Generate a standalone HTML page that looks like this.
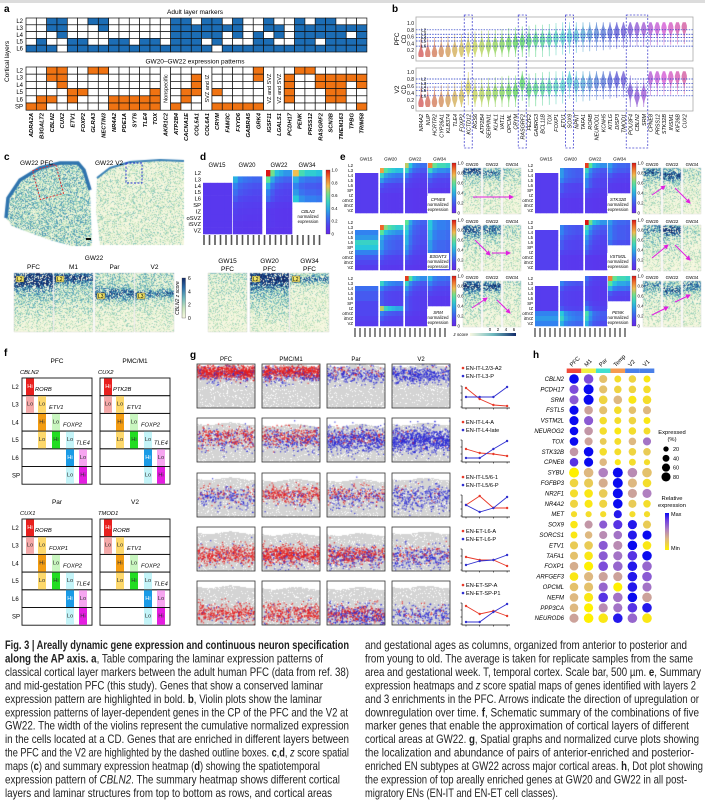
<!DOCTYPE html>
<html><head><meta charset="utf-8">
<style>
html,body{margin:0;padding:0;background:#fff}
body{width:705px;height:801px;position:relative;overflow:hidden}
#tex,#fig{position:absolute;left:0;top:0}
</style></head>
<body>
<canvas id="tex" width="705" height="801"></canvas>
<svg id="fig" width="705" height="801" xmlns="http://www.w3.org/2000/svg" font-family="Liberation Sans, sans-serif"></svg>
<script>
// ---------- DATA ----------
const aGenes=['ADRA2A','B3GALT2','CBLN2','CUX2','ETV1','FOXP2','GLRA3','NECTIN3','NR4A2','PDE1A','SYT6','TLE4','TOX','AKR1C2','ATP2B4','CACNA1E','COL5A1','COL6A1','CRYM','FAM3C','FXYD6','GABRA5','GRK4','IGSF11','LGALS1','PCDH17','PENK','PRSS12','RASGRF2','SCN3B','TMEM163','TPBG','TRIM58'];
const adultPattern=['00001','00011','11001','11100','00011','00011','10001','11001','00011','00011','00001','00011','00011','00001','11111','11111','01111','11101','11110','01001','11101','00001','00111','11011','01101','00001','11111','01111','11101','11111','01111','01011','01111'];
const fetalPattern=['000001','000011','110010','111000','000110','000100','100000','100000','000011','000011','000011','000011','000111','N','000001','000110','011100','S','000101','000001','000001','000001','110001','V','V','011110','100000','100000','011000','011110','011110','010000','011001'];
const mergedLabels={N:'Nonspecific',S:'SVZ and IZ',V:'VZ and SVZ'};
const adultRows=['L2','L3','L4','L5','L6'];
const fetalRows=['L2','L3','L4','L5','L6','SP'];

const bGenes=['NR4A2','NUP','HCRTR2','CYP26A1','KLB374','TLE4','FOXP2','KCTD12','RGS6','ATP2B4','SERPINI1','KLHL1','VAT1L','OPCML','CRYM','RASGRF2','FEZF2','GABRG3','BCL11B','TOX','FOXP1','ETV1','SOX9','NPNT','TAFA1','RORB','NEUROD1','KCNH5','KITLG','DISP3','TMOD1','POU3F4','CBLN2','SRM','CPNE8','PRSS12','STK32B','INSM1','KIF26B','CUX2'];
const pfcCD=[0.08,0.1,0.12,0.15,0.17,0.2,0.22,0.28,0.3,0.32,0.33,0.35,0.37,0.4,0.42,0.45,0.47,0.5,0.5,0.52,0.55,0.57,0.6,0.62,0.65,0.67,0.68,0.7,0.72,0.74,0.76,0.8,0.82,0.82,0.84,0.85,0.85,0.86,0.87,0.88];
const v2CD=[0.1,0.12,0.14,0.17,0.2,0.25,0.3,0.55,0.35,0.37,0.38,0.4,0.42,0.44,0.45,0.68,0.5,0.52,0.54,0.56,0.58,0.6,0.74,0.64,0.66,0.68,0.7,0.72,0.74,0.76,0.78,0.45,0.3,0.38,0.82,0.84,0.84,0.85,0.86,0.86];
const bTicks=[0,0.2,0.4,0.6,0.8,1.0];
const bLayerLines=[0.8,0.67,0.57,0.47,0.32];
const bLayerNames=['L2','L3','L4','L5','L6'];
const bBoxes=[[7,7],[15,15],[22,22],[31,33]];

const hmRows=['L2','L3','L4','L5','L6','SP','IZ','oSVZ','iSVZ','VZ'];
const hmAges=['GW15','GW20','GW22','GW34'];
const hmStart=[2,1,0,0];
const hmColFactor=[[1,1,1,1],[1,.7,.6,.55,.5,.5],[1,.6,.4,.35,.3,.3],[1,.7,.6,.6,.55]];
const dCBLN2=[[.08,.08,.08,.08,.08,.08,.08,.08],[.4,.3,.25,.2,.15,.12,.1,.08,.08],[1,.6,.4,.3,.25,.15,.1,.1,.1,.08],[.75,.4,.3,.35,.45]];
const eCPNE8=[[.1,.1,.1,.1,.1,.1,.1,.1],[.8,.5,.35,.2,.15,.1,.1,.1,.1],[.7,.5,.3,.2,.15,.1,.1,.1,.1,.1],[.85,.5,.3,.2,.15,.1]];
const eB3GNT3=[[.3,.35,.5,.45,.3,.2,.15,.1],[.9,.6,.4,.35,.35,.3,.2,.15,.1],[.6,.5,.45,.4,.4,.35,.3,.2,.15,.1],[.45,.45,.4,.4,.35,.35,.3,.3,.25,.25]];
const eSRM=[[.25,.2,.2,.15,.15,.15,.12,.1],[.5,.3,.2,.2,.2,.7,.3,.2,.15],[.95,.5,.35,.25,.2,.2,.2,.15,.1,.1],[.4,.3,.2,.15,.1,.1]];
const eSTK32B=[[.1,.1,.1,.1,.1,.1,.1,.1],[.35,.35,.3,.2,.2,.15,.1,.1,.1],[.95,.5,.4,.3,.3,.2,.15,.1,.1,.1],[.35,.3,.2,.15,.1,.1]];
const eVSTM2L=[[.12,.12,.12,.12,.12,.12,.12,.12],[.3,.3,.25,.2,.2,.15,.1,.1,.1],[1,.55,.45,.35,.3,.25,.2,.1,.1,.1],[.35,.3,.3,.3,.25]];
const ePENK=[[.1,.1,.1,.1,.1,.3,.35,.3],[.3,.2,.15,.15,.15,.2,.45,.5,.4],[.25,.2,.15,.15,.15,.2,.3,.55,.5,.4],[.85,.6,.4,.2,.15]];

const gAreas=['PFC','PMC/M1','Par','V2'];
const gRedNames=['EN-IT-L2/3-A2','EN-IT-L4-A','EN-IT-L5/6-1','EN-ET-L6-A','EN-ET-SP-A'];
const gBlueNames=['EN-IT-L3-P','EN-IT-L4-late','EN-IT-L5/6-P','EN-ET-L6-P','EN-ET-SP-P1'];
const gRedCurve=[[.9,.35,.05,0],[.55,.35,.3,.2],[.5,.95,.35,.35],[.6,.45,.45,.15],[.85,.45,.6,.35]];
const gBlueCurve=[[.45,.45,.45,.95],[.1,.1,.55,.95],[.5,.15,.35,.9],[.2,.4,.45,.7],[.05,.05,.55,.95]];
const gRedCount=[[700,550,60,15],[260,240,100,30],[80,300,150,25],[420,560,350,100],[350,350,280,40]];
const gBlueCount=[[160,200,240,420],[160,240,560,800],[200,70,170,320],[50,100,240,280],[40,60,350,250]];
const gBandCenter=[.2,.45,.5,.65,.75];

const hAreas=['PFC','M1','Par','Temp','V2','V1'];
const hGenes=['CBLN2','PCDH17','SRM','FSTL5','VSTM2L','NEUROG2','TOX','STK32B','CPNE8','SYBU','FGFBP3','NR2F1','NR4A2','MET','SOX9','SORCS1','ETV1','TAFA1','FOXP1','ARFGEF3','OPCML','NEFM','PPP3CA','NEUROD6'];
const hExpr=[[1,.75,.25,.1,.15,.05],[.75,1,.25,.15,.15,.1],[.7,1,.15,.3,.05,.1],[1,.4,.25,.1,.25,.3],[1,.7,.1,.1,.15,.05],[1,.45,.1,.05,.1,.1],[1,.4,.2,.1,.3,.6],[.45,1,.1,.1,.15,.2],[.85,1,.3,.05,.1,.1],[0,.3,.55,1,.5,.25],[.15,.2,.35,1,.3,.1],[.1,.05,.2,1,.4,.55],[.15,.05,.15,1,.2,.1],[.1,.1,.1,.95,.1,.1],[.05,.45,.7,.85,.95,.2],[.05,.3,.5,.6,.95,1],[.2,.2,.7,.5,1,.05],[.25,.05,.7,.6,.85,1],[.35,0,.75,.65,.95,.65],[.05,.3,.4,.4,.95,.7],[.25,.25,.65,0,.95,.6],[.3,.05,.85,.6,1,.4],[.3,0,.5,.6,.85,.95],[.4,0,.05,.95,.65,.05]];
const hPct=[[90,90,60,40,50,40],[80,100,60,50,50,50],[80,100,70,70,60,70],[80,70,60,50,50,60],[80,80,50,40,50,40],[70,70,50,40,50,40],[70,60,40,40,50,60],[70,90,50,40,50,50],[70,80,50,30,40,30],[100,90,90,100,90,90],[70,80,80,100,80,70],[60,70,70,100,80,80],[60,60,60,90,60,50],[30,30,30,60,30,30],[50,60,60,80,80,60],[40,50,60,70,80,80],[60,70,80,80,90,70],[60,70,80,80,90,90],[70,80,90,90,90,90],[70,80,80,80,90,90],[70,80,80,80,90,80],[70,80,90,90,90,90],[70,80,80,80,90,90],[80,90,90,90,90,90]];
const hLegendPct=[20,40,60,80];

// ---------- HELPERS ----------
const NS='http://www.w3.org/2000/svg';
const svg=document.getElementById('fig');
const cv=document.getElementById('tex');const ctx=cv.getContext('2d');
function mk(tag,attrs,parent){const e=document.createElementNS(NS,tag);for(const k in attrs)e.setAttribute(k,attrs[k]);(parent||svg).appendChild(e);return e;}
function T(str,x,y,fs,extra,parent){const t=mk('text',Object.assign({x:x,y:y,'font-size':fs},extra||{}),parent);t.textContent=str;return t;}
function mulberry(a){return function(){a|=0;a=a+0x6D2B79F5|0;let t=Math.imul(a^a>>>15,1|a);t=t+Math.imul(t^t>>>7,61|t)^t;return((t^t>>>14)>>>0)/4294967296;}}
function interp(stops,t){t=Math.max(0,Math.min(1,t));for(let i=1;i<stops.length;i++){if(t<=stops[i][0]){const a=stops[i-1],b=stops[i];const f=(t-a[0])/(b[0]-a[0]);return a[1].map((v,k)=>Math.round(v+(b[1][k]-v)*f));}}return stops[stops.length-1][1];}
function rgb(c){return 'rgb('+c[0]+','+c[1]+','+c[2]+')';}
const jet=[[0,[100,40,235]],[.15,[80,70,240]],[.3,[50,130,240]],[.45,[40,200,220]],[.6,[90,230,150]],[.75,[240,190,80]],[.9,[240,100,40]],[1,[220,20,20]]];
const tileStops=[[0,[248,248,226]],[.25,[200,230,190]],[.5,[110,185,190]],[.75,[45,110,170]],[1,[18,42,105]]];
const dotStops=[[0,[255,240,0]],[.3,[222,184,128]],[.55,[176,128,192]],[.8,[112,64,224]],[1,[10,10,240]]];

function speckleCanvas(w,h,fn,seed){
  const oc=document.createElement('canvas');oc.width=w;oc.height=h;const c=oc.getContext('2d');
  const img=c.createImageData(w,h);const r=mulberry(seed);
  for(let j=0;j<h;j++)for(let i=0;i<w;i++){
    const I=fn(j/h,i/w);let v=I+(r()-0.5)*0.6;if(r()<0.22)v=0.02;
    const col=interp(tileStops,v);const p=(j*w+i)*4;img.data[p]=col[0];img.data[p+1]=col[1];img.data[p+2]=col[2];img.data[p+3]=255;}
  c.putImageData(img,0,0);return oc;}
function bandFn(a,cc,wd,b,fl){return function(d){return (fl||0.04)+a*Math.exp(-Math.pow((d-cc)/wd,2))+b*(1-d);};}
function tile(x,y,w,h,fn,seed,name){
  ctx.drawImage(speckleCanvas(w,h,fn,seed),x,y);
  const r=mk('rect',{x:x,y:y,width:w,height:h,fill:'none',stroke:'#ccc','stroke-width':0.3});
  
  
}
function label(ch,x,y){const t=T(ch,x,y,10,{'font-weight':'bold'});}

const topBar=mk('rect',{x:0,y:0,width:705,height:3,fill:'#dcdcdc'});



// ---------- PANEL A ----------
label('a',4,12);
const ax0=26,acw=10.33;
{const t=T('Adult layer markers',195,14,6.5,{'text-anchor':'middle'});}
{const t=T('GW20–GW22 expression patterns',195,63.5,6.5,{'text-anchor':'middle'});}
{const t=T('Cortical layers',0,0,6.5,{transform:'translate(9,82) rotate(-90)'});}
adultRows.forEach((L,r)=>{const t=T(L,23,18+r*6.8+5.2,6,{'text-anchor':'end'});});
fetalRows.forEach((L,r)=>{const t=T(L,23,67+r*7.2+5.5,6,{'text-anchor':'end'});});
aGenes.forEach((g,i)=>{
  const x=ax0+i*acw;
  for(let r=0;r<5;r++){const on=adultPattern[i][r]==='1';const c=mk('rect',{x:x,y:18+r*6.8,width:acw,height:6.8,fill:on?'#1c6db5':'#fff',stroke:'#111','stroke-width':0.7});
    
    }
  const fp=fetalPattern[i];
  if(mergedLabels[fp]){const c=mk('rect',{x:x,y:67,width:acw,height:43.2,fill:'#fff',stroke:'#111','stroke-width':0.7});
    
    
    const t=T(mergedLabels[fp],0,0,5.5,{'text-anchor':'middle',transform:'translate('+(x+acw/2+2)+',88.6) rotate(-90)'});
    
    }
  else for(let r=0;r<6;r++){const on=fp[r]==='1';const c=mk('rect',{x:x,y:67+r*7.2,width:acw,height:7.2,fill:on?'#f07312':'#fff',stroke:'#111','stroke-width':0.7});
    
    }
  const t=T(g,0,0,5.8,{'text-anchor':'end','font-style':'italic','font-weight':'bold',transform:'translate('+(x+acw/2+2)+',113) rotate(-90)'});
  
  
});

// ---------- PANEL B ----------
label('b',392,12);
const bx=i=>421+i*6.75;
const bPanels=[{name:'PFC',top:17,bot:61,y:v=>57-34*v,cd:pfcCD},{name:'V2',top:68,bot:111,y:v=>107-35*v,cd:v2CD}];
bPanels.forEach(P=>{
  const fr=mk('rect',{x:416,y:P.top,width:277,height:P.bot-P.top,fill:'#fff',stroke:'#aaa','stroke-width':0.8});
  
  
  bTicks.forEach(v=>{const t=T(v===0?'0':v.toFixed(1),414,P.y(v)+2,5,{'text-anchor':'end'});});
  const t1=T(P.name,0,0,6.5,{'text-anchor':'middle',transform:'translate(399,'+((P.top+P.bot)/2)+') rotate(-90)'});
  
  
  const t2=T('CD',0,0,6,{'text-anchor':'middle',transform:'translate(406,'+((P.top+P.bot)/2)+') rotate(-90)'});
  
  
  P.cd.forEach((c,i)=>{
    const lo=Math.max(0,c-0.5),hi=Math.min(1.02,c+0.45);const pts=[],pts2=[];
    for(let k=0;k<=24;k++){const v=lo+(hi-lo)*k/24;const w=0.3+2.4*Math.exp(-Math.pow((v-c)/0.17,2));pts.push([bx(i)+w,P.y(v)]);pts2.unshift([bx(i)-w,P.y(v)]);}
    const h=(i/39)*325;
    const p=mk('polygon',{points:pts.concat(pts2).map(q=>q[0].toFixed(1)+','+q[1].toFixed(1)).join(' '),fill:'hsl('+h+',58%,64%)',opacity:0.9});
    
    
  });
  bLayerLines.forEach((v,k)=>{const l=mk('line',{x1:416,x2:693,y1:P.y(v),y2:P.y(v),stroke:'#1a2fc0','stroke-width':0.7,'stroke-dasharray':'1.5,1.2'});
    
    
    const t=T(bLayerNames[k],421,P.y(v)+1.5,4.8,{});
    
    });
});
bGenes.forEach((g,i)=>{const t=T(g,0,0,5.4,{'text-anchor':'end','font-style':'italic',transform:'translate('+(bx(i)+2)+',114) rotate(-90)'});});
bBoxes.forEach(b=>{const r=mk('rect',{x:bx(b[0])-4,y:15,width:bx(b[1])-bx(b[0])+8,height:133,fill:'none',stroke:'#4848d0','stroke-width':0.8,'stroke-dasharray':'2,1.5'});});

// ---------- HEATMAP FUNCTION ----------
function heatmap(data,x0,y0,rh,blockX,blockW,name){
  data.forEach((prof,b)=>{
    const cf=hmColFactor[b];const cw=blockW[b]/cf.length;
    prof.forEach((p,k)=>{const row=hmStart[b]+k;cf.forEach((f,c)=>{
      const v=0.06+(p-0.06)*f;
      const r=mk('rect',{x:blockX[b]+c*cw,y:y0+row*rh,width:cw+0.3,height:rh+0.3,fill:rgb(interp(jet,v))});
      
      });});
  });
}
function colorbar(x,y,h,name){
  const id='jg'+name;const g=mk('linearGradient',{id:id,x1:0,y1:1,x2:0,y2:0});
  for(let k=0;k<=8;k++){mk('stop',{offset:k/8,'stop-color':rgb(interp(jet,k/8))},g);}
  const r=mk('rect',{x:x,y:y,width:4,height:h,fill:'url(#'+id+')',stroke:'#333','stroke-width':0.3});
  
  
  [0,.2,.4,.6,.8,1].forEach(v=>{const t=T(v===0?'0':v.toFixed(1),x+5.5,y+h-v*h+1.5,4.3,{});});
}
function noteBox(x,y,gene,name){
  const r=mk('rect',{x:x,y:y,width:22,height:16,fill:'#fff'});
  
  
  [[gene,'italic'],['normalized','normal'],['expression','normal']].forEach((s,k)=>{const t=T(s[0],x+11,y+5+k*5,4.3,{'text-anchor':'middle','font-style':s[1]});});
}

// ---------- PANEL C ----------
label('c',4,160);
{const t=T('GW22 PFC',20,165,6.5,{});}
{const t=T('GW22 V2',95,165,6.5,{});}
(function(){
  const pfcPath=[[6,218],[8,198],[20,180],[40,168],[60,163],[78,163],[84,170],[90,190],[92,246],[72,246],[50,240],[28,232],[12,226]];
  const v2Path=[[97,178],[110,168],[130,162],[160,160],[184,161],[184,245],[100,245],[96,210]];
  [[pfcPath,0.36,11],[v2Path,0.14,12]].forEach((q,k)=>{
    ctx.save();ctx.beginPath();q[0].forEach((p,i)=>i?ctx.lineTo(p[0],p[1]):ctx.moveTo(p[0],p[1]));ctx.closePath();ctx.clip();
    ctx.drawImage(speckleCanvas(100,90,()=>q[1],q[2]),k?94:4,160);ctx.restore();
    ctx.save();ctx.strokeStyle=k?'#3c82b6':'#2f74ae';ctx.lineWidth=k?2:3.5;ctx.beginPath();
    const edge=k?q[0].slice(0,5):q[0].slice(0,8);edge.forEach((p,i)=>i?ctx.lineTo(p[0],p[1]):ctx.moveTo(p[0],p[1]));ctx.stroke();ctx.restore();
  });
})();
{const r=mk('rect',{x:36,y:167,width:24,height:30,fill:'none',stroke:'#e03030','stroke-width':0.9,'stroke-dasharray':'2,1.5',transform:'rotate(-15 48 182)'});}
{const r=mk('rect',{x:126,y:163,width:16,height:20,fill:'none',stroke:'#2030d0','stroke-width':0.9,'stroke-dasharray':'2,1.5'});}
{const r=mk('rect',{x:86,y:238,width:5,height:2,fill:'#111'});}
{const t=T('GW22',94,260,6.5,{'text-anchor':'middle'});}
const cTiles=[['PFC',14,bandFn(.5,.12,.15,.55)],['M1',54,bandFn(.5,.08,.08,.45)],['Par',95,bandFn(.5,.35,.12,.3)],['V2',135,bandFn(.45,.35,.08,.3)]];
cTiles.forEach((q,k)=>{
  const t=T(q[0],q[1]+19.5,269,6.5,{'text-anchor':'middle'});
  tile(q[1],273,39,59,q[2],100+k,'c-spatial-map-'+q[0]);
  const ly=k<2?276:293;const lb=mk('rect',{x:q[1]+2,y:ly,width:8,height:6,fill:'#f2e66a',stroke:'#222','stroke-width':0.4});
  
  
  const lt=T(k<2?'L2':'L3',q[1]+3,ly+5,5,{});
});
(function(){const g=mk('linearGradient',{id:'zg',x1:0,y1:1,x2:0,y2:0});[0,.25,.5,.75,1].forEach(v=>mk('stop',{offset:v,'stop-color':rgb(interp(tileStops,v))},g));
  const r=mk('rect',{x:182,y:278,width:3.5,height:40,fill:'url(#zg)',stroke:'#333','stroke-width':0.3});
  [0,2,4,6].forEach(v=>{const t=T(String(v),188,318-v/6*40+2,5,{});});
  const t=T('CBLN2 z score',0,0,5,{'text-anchor':'middle','font-style':'italic',transform:'translate(179,298) rotate(-90)'});})();

// ---------- PANEL D ----------
label('d',200,160);
hmAges.forEach((a,k)=>{const t=T(a,[217,247,279,307][k],167,6,{'text-anchor':'middle'});});
hmRows.forEach((r,k)=>{const t=T(r,201,170+k*6.4+5,5.8,{'text-anchor':'end'});});
heatmap(dCBLN2,203,170,6.4,[203,233,266,293],[29,29,26,29],'d-heatmap');
noteBox(297,208,'CBLN2','d');
colorbar(326,170,64,'d');
for(let k=0;k<22;k++){const t=mk('line',{x1:204+k*5.5,x2:204+k*5.5,y1:235,y2:245,stroke:'#555','stroke-width':1.6});}
const dTiles=[['GW15',208,bandFn(0,0,1,.18)],['GW20',250,bandFn(.5,.1,.15,.55)],['GW34',290,bandFn(.5,.1,.08,.15)]];
dTiles.forEach((q,k)=>{
  const t=T(q[0],q[1]+19.5,263,6.5,{'text-anchor':'middle'});
  const t2=T('PFC',q[1]+19.5,271,6.5,{'text-anchor':'middle'});
  tile(q[1],273,39,59,q[2],200+k,'d-spatial-map-'+q[0]);
});
[[252,276,'L2'],[292,276,'L2']].forEach(q=>{const lb=mk('rect',{x:q[0],y:q[1],width:8,height:6,fill:'#f2e66a',stroke:'#222','stroke-width':0.4});const lt=T(q[2],q[0]+1,q[1]+5,5,{});});

// ---------- PANEL E ----------
label('e',340,160);
const eGroups=[
  {gene:'CPNE8',data:eCPNE8,x:355,y:163,tiles:[bandFn(.6,.05,.1,.3),bandFn(.45,.1,.1,.25),bandFn(.15,.1,.2,.15)],arrows:[[473,197,513,197]]},
  {gene:'STK32B',data:eSTK32B,x:535,y:163,tiles:[bandFn(.4,.1,.12,.3),bandFn(.55,.15,.12,.3),bandFn(.1,.1,.2,.15)],arrows:[[652,195,665,186],[675,188,690,203]]},
  {gene:'B3GNT3',data:eB3GNT3,x:355,y:220,tiles:[bandFn(.45,.1,.15,.35),bandFn(.35,.1,.15,.3),bandFn(.1,.1,.2,.15)],arrows:[[475,240,490,255],[492,253,510,253]]},
  {gene:'VSTM2L',data:eVSTM2L,x:535,y:220,tiles:[bandFn(.3,.1,.12,.35),bandFn(.55,.12,.12,.35),bandFn(.1,.1,.2,.12)],arrows:[[652,258,668,245],[675,245,690,260]]},
  {gene:'SRM',data:eSRM,x:355,y:276,tiles:[bandFn(.4,.1,.15,.5),bandFn(.55,.12,.1,.3),bandFn(.1,.1,.2,.12)],arrows:[[472,308,487,298],[497,300,510,313]]},
  {gene:'PENK',data:ePENK,x:535,y:276,tiles:[bandFn(.3,.1,.12,.25),bandFn(.5,.2,.12,.25),bandFn(.4,.1,.12,.25)],arrows:[[652,315,668,307],[675,302,690,295]]}
];
{const m=mk('marker',{id:'ah',markerWidth:5,markerHeight:5,refX:4,refY:2.5,orient:'auto'});mk('path',{d:'M0,0 L5,2.5 L0,5 z',fill:'#e020e0'},m);}
eGroups.forEach((G,gi)=>{
  hmRows.forEach((r,k)=>{const t=T(r,G.x-2,G.y+k*5+4,4.3,{'text-anchor':'end'});});
  heatmap(G.data,G.x,G.y,5,[G.x,G.x+25,G.x+50,G.x+73],[23,23,22,22],'e-heatmap-'+G.gene);
  noteBox(G.x+72,G.y+33,G.gene,'e-'+G.gene);
  colorbar(G.x+97,G.y,50,'e-'+G.gene);
  if(gi<2)hmAges.forEach((a,k)=>{const t=T(a,G.x+11+k*24.5,G.y-2.5,4.5,{'text-anchor':'middle'});});
  const tx0=gi%2===0?463:643;
  ['GW20','GW22','GW34'].forEach((a,k)=>{
    const t=T(a,tx0+9+k*20,G.y+3,4.5,{'text-anchor':'middle'});
    tile(tx0+k*20,G.y+5,18,46,G.tiles[k],300+gi*3+k,'e-spatial-map-'+G.gene+'-'+a);
  });
  G.arrows.forEach(a=>{const l=mk('line',{x1:a[0],y1:a[1],x2:a[2],y2:a[3],stroke:'#e020e0','stroke-width':1,'marker-end':'url(#ah)'});});
});
for(let k=0;k<19;k++){[355,535].forEach(x0=>{const t=mk('line',{x1:x0+k*5,x2:x0+k*5,y1:328,y2:337,stroke:'#555','stroke-width':1.4});});}
{const t=T('z score',468,336,4.5,{'text-anchor':'end','font-style':'italic'});
 const g=mk('linearGradient',{id:'zg2',x1:0,y1:0,x2:1,y2:0});[0,.5,1].forEach(v=>mk('stop',{offset:v,'stop-color':rgb(interp(tileStops,v))},g));
 const r=mk('rect',{x:470,y:333,width:46,height:3,fill:'url(#zg2)'});
 [0,2,4,6].forEach((v,k)=>{const tt=T(String(v),490+k*8,331,4.3,{'text-anchor':'middle'});});}

// ---------- PANEL F ----------
label('f',4,356);
const fBars=[[4,[['Hi',0,'#e8201e','#fff'],['Lo',1,'#f4a9a9','#333']]],[16,[['Lo',1,'#fdd86c','#333'],['Hi',2,'#f39c12','#333'],['Lo',3,'#fdd86c','#333']]],[30,[['Lo',2,'#c9f6c0','#333'],['Hi',3,'#22dd22','#333']]],[44,[['Lo',3,'#c4f4f8','#333'],['Hi',4,'#1a9be6','#fff'],['Lo',5,'#c4f4f8','#333']]],[57,[['Lo',4,'#f6a6f0','#333'],['Hi',5,'#e41ee0','#333']]]];
const fPanels=[
  {title:'PFC',x:22,y:378,genes:['CBLN2','RORB','ETV1','FOXP2','TLE4']},
  {title:'PMC/M1',x:100,y:378,genes:['CUX2','PTK2B','ETV1','FOXP2','TLE4']},
  {title:'Par',x:22,y:519,genes:['CUX1','RORB','FOXP1','FOXP2','TLE4']},
  {title:'V2',x:100,y:519,genes:['TMOD1','RORB','ETV1','FOXP2','TLE4']}
];
const fRows=['L2','L3','L4','L5','L6','SP'];const frh=17.7;
fPanels.forEach((P,pi)=>{
  const t=T(P.title,P.x+35,P.y-15,6.5,{'text-anchor':'middle'});
  if(pi%2===0)fRows.forEach((r,k)=>{const tt=T(r,12,P.y+k*frh+11,6,{});});
  fRows.forEach((r,k)=>{const b=mk('rect',{x:P.x,y:P.y+k*frh,width:70,height:frh,fill:'none',stroke:'#111','stroke-width':0.9});});
  fBars.forEach((bar,gi)=>{
    bar[1].forEach(s=>{const r=mk('rect',{x:P.x+bar[0],y:P.y+s[1]*frh+0.5,width:8,height:frh-1,fill:s[2]});
      const tt=T(s[0],P.x+bar[0]+4,P.y+s[1]*frh+10,5.8,{'text-anchor':'middle',fill:s[3]});});
    const first=bar[1][0][1];
    const lx=gi===0?P.x-2:P.x+bar[0]-3;
    const ly=gi===0?P.y-4:P.y+first*frh-4.5;
    const lbl=T(P.genes[gi],lx,ly,5.8,{'font-style':'italic'});
    
    
  });
});

// ---------- PANEL G ----------
label('g',190,358);
const gX=[197,262,327,392],gY=[364,418,473,527,581],gW=58,gH=44;
gAreas.forEach((a,k)=>{const t=T(a,gX[k]+29,361,6,{'text-anchor':'middle'});});
function gauss(r){return Math.sqrt(-2*Math.log(r()+1e-9))*Math.cos(2*Math.PI*r());}
gY.forEach((y,ri)=>{
  gX.forEach((x,ci)=>{
    const r=mulberry(500+ri*10+ci);
    const oc=document.createElement('canvas');oc.width=gW;oc.height=gH;const c=oc.getContext('2d');
    const img=c.createImageData(gW,gH);
    const g0=ri===0?0.02:0.12+0.04*Math.sin(ci);
    for(let j=0;j<gH;j++)for(let i=0;i<gW;i++){const p=(j*gW+i)*4;let v=255;if(j/gH>g0+0.03*Math.sin(i/7)&&r()<0.9)v=212;img.data[p]=v;img.data[p+1]=v;img.data[p+2]=v;img.data[p+3]=255;}
    c.putImageData(img,0,0);
    const nR=gRedCount[ri][ci],nB=gBlueCount[ri][ci],bc=gBandCenter[ri],bw=ri===0?0.08:0.11;
    const tot=nR+nB;let red=0,blue=0;
    for(let k=0;k<tot;k++){const isRed=(red/(nR||1))<=(blue/(nB||1))&&red<nR;if(isRed)red++;else blue++;
      const cy=(bc+(isRed?-0.03:0.04)+gauss(r)*bw*(isRed?1:1.25))*gH;const cx=r()*gW;
      if(cy<0||cy>gH-1)continue;
      c.fillStyle=isRed?'rgba(232,30,30,0.9)':'rgba(40,40,215,0.9)';c.fillRect(cx,cy,1.2,1.2);}
    ctx.drawImage(oc,x,y);
    const b=mk('rect',{x:x,y:y,width:gW,height:gH,fill:'none',stroke:'#333','stroke-width':0.8});
    
    
  });
  [[gRedNames[ri],'#e83a2a',0],[gBlueNames[ri],'#3030d0',1]].forEach(q=>{
    const d=mk('circle',{cx:463,cy:y+4+q[2]*8,r:1.3,fill:q[1]});
    const t=T(q[0],466,y+6+q[2]*8,5.6,{});});
  const px0=462,px1=510,py0=y+44,py1=y+22;
  const cxs=i=>466+i*13.7;const cys=v=>py0-2-v*(py0-py1-2);
  const ax=mk('path',{d:'M'+px0+','+py1+' L'+px0+','+py0+' L'+px1+','+py0,fill:'none',stroke:'#111','stroke-width':0.7});
  
  
  for(let k=0;k<4;k++){const tk=mk('line',{x1:cxs(k),x2:cxs(k),y1:py0,y2:py0+1.5,stroke:'#111','stroke-width':0.6});
    const tk2=mk('line',{x1:px0-1.5,x2:px0,y1:py1+k*7,y2:py1+k*7,stroke:'#111','stroke-width':0.6});}
  [[gRedCurve[ri],'#e83a2a','red'],[gBlueCurve[ri],'#3030d0','blue']].forEach(s=>{
    const l=mk('polyline',{points:s[0].map((v,i)=>cxs(i)+','+cys(v)).join(' '),fill:'none',stroke:s[1],'stroke-width':0.9});
    
    
    s[0].forEach((v,i)=>{const pt=mk('circle',{cx:cxs(i),cy:cys(v),r:1.2,fill:s[1]});});
  });
});

// ---------- PANEL H ----------
label('h',533,358);
const hx=i=>574+i*14.6,hy=j=>379+j*10.4;
const areaCols=['#f04a3a','#f2f040','#40e0d0','#f59a50','#4a80e8','#4a80e8'];
hAreas.forEach((a,i)=>{
  const t=T(a,0,0,5.8,{transform:'translate('+(hx(i)-2)+',367) rotate(-45)'});
  const r=mk('rect',{x:hx(i)-7.3,y:368.5,width:14.6,height:4.5,fill:areaCols[i]});
});
hGenes.forEach((g,j)=>{
  const t=T(g,564,hy(j)+2,6,{'text-anchor':'end','font-style':'italic'});
  hExpr[j].forEach((v,i)=>{const c=mk('circle',{cx:hx(i),cy:hy(j),r:(0.8+4.2*Math.sqrt(hPct[j][i]/100)).toFixed(2),fill:rgb(interp(dotStops,v))});
    
    });
});
{const t=T('Expressed',672,434,5.8,{'text-anchor':'middle'});
 const t2=T('(%)',672,441,5.8,{'text-anchor':'middle'});}
hLegendPct.forEach((p,k)=>{const c=mk('circle',{cx:666,cy:449+k*9.3,r:(0.8+4.2*Math.sqrt(p/100)).toFixed(2),fill:'#000'});
  const t=T(String(p),673,451+k*9.3,5.5,{});});
{const t=T('Relative',672,500,5.8,{'text-anchor':'middle'});
 const t2=T('expression',672,507,5.8,{'text-anchor':'middle'});
 const g=mk('linearGradient',{id:'hg',x1:0,y1:1,x2:0,y2:0});[0,.3,.55,.8,1].forEach(v=>mk('stop',{offset:v,'stop-color':rgb(interp(dotStops,v))},g));
 const r=mk('rect',{x:665,y:513,width:4,height:37,fill:'url(#hg)'});
 const m1=T('Max',671,516,5.5,{});
 const m2=T('Min',671,550,5.5,{});}

// ---------- CAPTION ----------
const capLeft=[
 [['Fig. 3 | Areally dynamic gene expression and continuous neuron specification','b']],
 [['along the AP axis. ','b'],['a','b'],[', Table comparing the laminar expression patterns of','']],
 [['classical cortical layer markers between the adult human PFC (data from ref. 38)','']],
 [['and mid-gestation PFC (this study). Genes that show a conserved laminar','']],
 [['expression pattern are highlighted in bold. ',''],['b','b'],[', Violin plots show the laminar','']],
 [['expression patterns of layer-dependent genes in the CP of the PFC and the V2 at','']],
 [['GW22. The width of the violins represent the cumulative normalized expression','']],
 [['in the cells located at a CD. Genes that are enriched in different layers between','']],
 [['the PFC and the V2 are highlighted by the dashed outline boxes. ',''],['c','b'],[',',''],['d','b'],[', ',''],['z','i'],[' score spatial','']],
 [['maps (',''],['c','b'],[') and summary expression heatmap (',''],['d','b'],[') showing the spatiotemporal','']],
 [['expression pattern of ',''],['CBLN2','i'],['. The summary heatmap shows different cortical','']],
 [['layers and laminar structures from top to bottom as rows, and cortical areas','']]];
const capLeftEnd=[349,323,349,323,322,348,349,349,349,320,340,332];
const capRight=[
 [['and gestational ages as columns, organized from anterior to posterior and','']],
 [['from young to old. The average is taken for replicate samples from the same','']],
 [['area and gestational week. T, temporal cortex. Scale bar, 500 µm. ',''],['e','b'],[', Summary','']],
 [['expression heatmaps and ',''],['z','i'],[' score spatial maps of genes identified with layers 2','']],
 [['and 3 enrichments in the PFC. Arrows indicate the direction of upregulation or','']],
 [['downregulation over time. ',''],['f','b'],[', Schematic summary of the combinations of five','']],
 [['marker genes that enable the approximation of cortical layers of different','']],
 [['cortical areas at GW22. ',''],['g','b'],[', Spatial graphs and normalized curve plots showing','']],
 [['the localization and abundance of pairs of anterior-enriched and posterior-','']],
 [['enriched EN subtypes at GW22 across major cortical areas. ',''],['h','b'],[', Dot plot showing','']],
 [['the expression of top areally enriched genes at GW20 and GW22 in all post-','']],
 [['migratory ENs (EN-IT and EN-ET cell classes).','']]];
const capRightEnd=[687,693,701,696,699,699,689,699,694,703,687,558];
function capLine(segs,x,end,y,name){
  const t=mk('text',{x:x,y:y,'font-size':11.6,textLength:end-x,lengthAdjust:'spacingAndGlyphs',fill:'#222'});
  segs.forEach(s=>{const ts=mk('tspan',s[1]==='b'?{'font-weight':'bold'}:s[1]==='i'?{'font-style':'italic'}:{},t);ts.textContent=s[0];});
  
  
}
capLeft.forEach((s,i)=>capLine(s,5,capLeftEnd[i],649+i*13.45,'caption-left-line'));
capRight.forEach((s,i)=>capLine(s,365,capRightEnd[i],649+i*13.45,'caption-right-line'));
</script>
</body></html>
